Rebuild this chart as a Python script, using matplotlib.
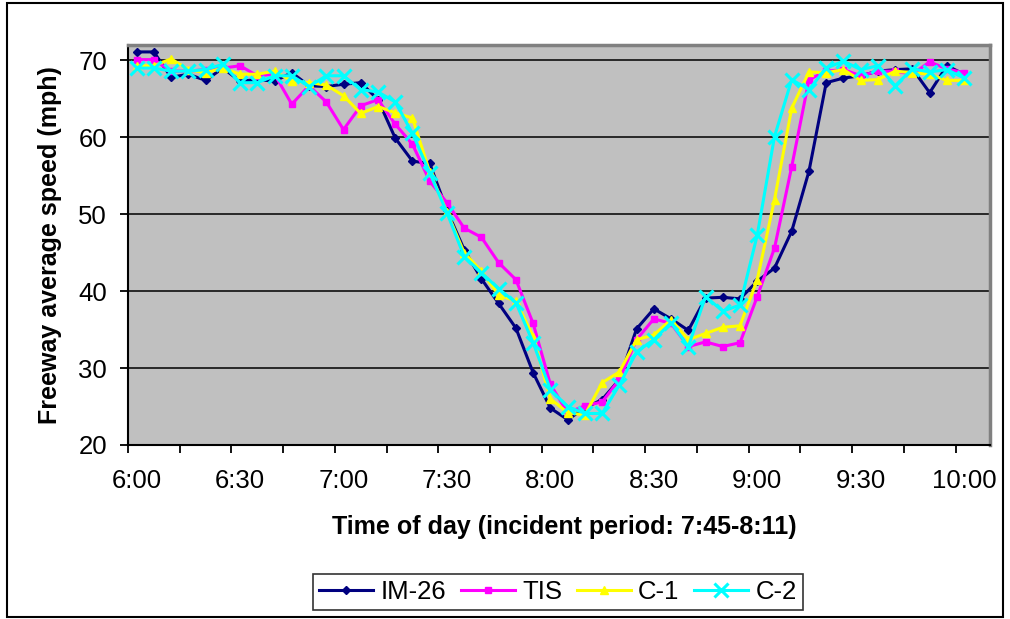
import matplotlib
matplotlib.use("Agg")
import matplotlib.pyplot as plt
from matplotlib.patches import Rectangle

plt.rcParams['font.family'] = ['Liberation Sans', 'DejaVu Sans']

# 5-minute categories starting at 6:00 (50 slots, 49 with data)
n_slots = 50
time_labels = ["6:00", "6:30", "7:00", "7:30", "8:00", "8:30", "9:00", "9:30", "10:00"]

im26 = [71.1, 71.1, 67.8, 68.2, 67.4, 69.0, 67.3, 67.5, 67.3, 68.4,
        66.7, 66.6, 66.9, 67.1, 64.9, 59.9, 56.9, 56.6, 50.5, 45.4,
        41.6, 38.4, 35.2, 29.4, 24.8, 23.3, 24.8, 25.9, 28.5, 35.1,
        37.7, 36.4, 34.9, 39.1, 39.2, 39.0, 41.3, 43.0, 47.8, 55.6,
        67.1, 67.7, 68.0, 68.6, 68.8, 68.9, 65.8, 69.3, 68.2]
tis = [70.1, 70.1, 68.6, 68.6, 68.8, 69.0, 69.3, 68.0, 68.2, 64.3,
       66.7, 64.6, 61.0, 64.1, 64.9, 61.7, 59.1, 54.3, 51.5, 48.2,
       47.0, 43.7, 41.5, 35.8, 27.9, 24.2, 25.1, 25.6, 28.5, 33.7,
       36.4, 35.8, 32.8, 33.4, 32.8, 33.3, 39.3, 45.6, 56.2, 67.5,
       68.6, 68.8, 68.0, 68.6, 68.6, 68.2, 69.8, 68.9, 68.4]
c1 = [69.3, 69.3, 70.2, 68.8, 68.4, 69.0, 68.2, 68.2, 68.6, 67.3,
      67.1, 66.8, 65.4, 63.1, 64.0, 63.2, 62.5, 55.5, 50.3, 45.0,
      42.6, 39.5, 38.7, 34.1, 26.0, 24.2, 23.9, 28.1, 29.5, 33.7,
      34.3, 36.3, 33.7, 34.5, 35.3, 35.5, 41.5, 51.9, 63.8, 68.5,
      68.4, 68.8, 67.4, 67.5, 68.6, 68.4, 68.2, 67.4, 67.4]
c2 = [69.0, 69.0, 68.6, 68.6, 68.8, 69.5, 67.1, 67.1, 68.0, 68.0,
      66.6, 68.0, 68.0, 66.2, 65.9, 64.6, 60.5, 55.4, 50.2, 44.5,
      42.4, 40.3, 38.5, 33.3, 27.2, 25.0, 24.1, 24.1, 27.8, 32.1,
      33.7, 35.9, 32.8, 39.3, 37.4, 38.2, 47.3, 60.1, 67.5, 66.2,
      69.0, 69.9, 68.8, 69.3, 66.7, 68.9, 68.5, 68.8, 67.7]

W, H = 1010, 619
fig = plt.figure(figsize=(W / 100, H / 100), dpi=100)
ax = fig.add_axes([128 / W, 1 - 445 / H, 862 / W, 400 / H])
ax.set_facecolor("#C0C0C0")

xs = list(range(len(im26)))
ax.plot(xs, im26, color="#000080", lw=2.2, marker="D", ms=4.5, label="IM-26", zorder=3)
ax.plot(xs, tis, color="#FF00FF", lw=2.2, marker="s", ms=4.5, label="TIS", zorder=4)
ax.plot(xs, c1, color="#FFFF00", lw=2.2, marker="^", ms=5.5, label="C-1", zorder=5)
ax.plot(xs, c2, color="#00FFFF", lw=2.2, marker="x", ms=10, mew=2.2, label="C-2", zorder=6)

ax.set_xlim(-0.5, n_slots - 0.5)
ax.set_ylim(20, 72)
ax.set_yticks(range(20, 71, 10))
ax.yaxis.grid(True, color="black", lw=1.1)
ax.set_axisbelow(True)

ax.set_xticks(range(0, n_slots, 6))
ax.set_xticklabels(time_labels)
ax.set_xticks([k - 0.5 for k in range(0, n_slots, 3)], minor=True)
ax.tick_params(axis="x", which="major", length=0, pad=17, labelsize=18.5)
ax.tick_params(axis="x", which="minor", length=6, width=1.3, direction="out")
ax.tick_params(axis="y", length=6, width=1.3, pad=9, labelsize=18.5)

for s in ["left", "bottom"]:
    ax.spines[s].set_color("black")
    ax.spines[s].set_linewidth(1.5)
for s in ["top", "right"]:
    ax.spines[s].set_color("#808080")
    ax.spines[s].set_linewidth(2.5)

ax.set_ylabel("Freeway average speed (mph)", fontsize=18, fontweight="bold")
ax.yaxis.set_label_coords(-0.077, 0.5)
ax.set_xlabel("Time of day (incident period: 7:45-8:11)", fontsize=18, fontweight="bold")
ax.xaxis.set_label_coords(0.506, -0.176)

leg = ax.legend(loc="center", bbox_to_anchor=(558 / W, 1 - 592 / H), bbox_transform=fig.transFigure,
                ncol=4, fontsize=18.5, frameon=True, fancybox=False, handlelength=2.1,
                columnspacing=0.55, handletextpad=0.3, borderpad=0.25, borderaxespad=0)
leg.get_frame().set_edgecolor("black")
leg.get_frame().set_linewidth(1.2)

fig.patches.append(Rectangle((7 / W, 2 / H), 996 / W, 614 / H, transform=fig.transFigure,
                             fill=False, edgecolor="black", lw=1.5))

fig.savefig("out.png", dpi=100)
